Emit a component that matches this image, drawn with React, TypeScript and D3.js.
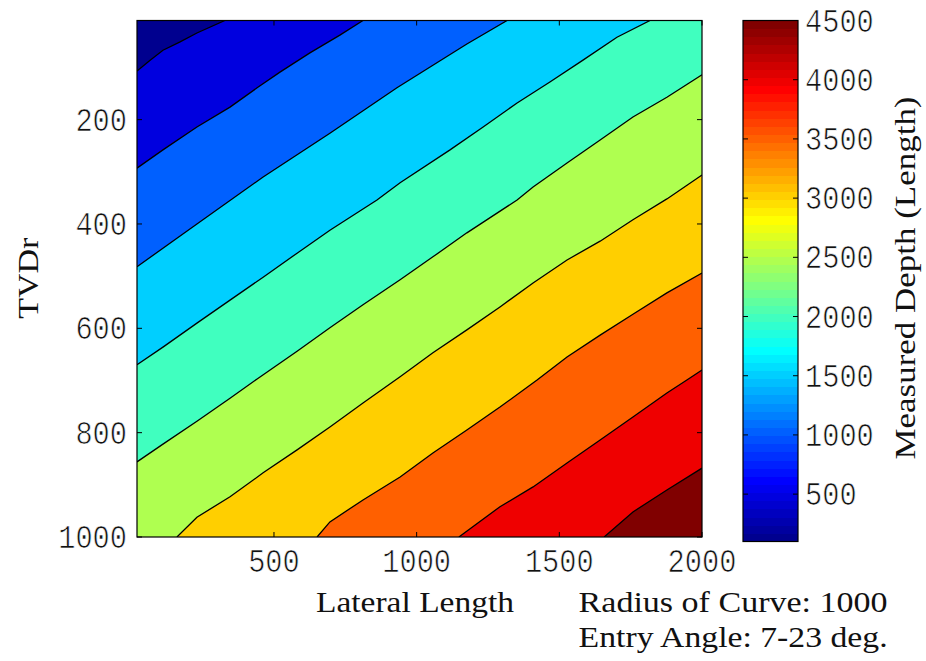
import React from "react";
import * as d3 from "d3";

// Axis tick values
const xTicks = [500, 1000, 1500, 2000];
const yTicks = [200, 400, 600, 800, 1000];
const mdTicks = [500, 1000, 1500, 2000, 2500, 3000, 3500, 4000, 4500];

// Contour levels of measured depth and the colour-axis limits
const levels = [500, 1000, 1500, 2000, 2500, 3000, 3500, 4000, 4500];
const mdMin = 100;
const mdMax = 4500;

// Contour lines as [lateral length, TVDr] pairs, each running from the
// top/right edge of the domain to the left/bottom edge.
const contour500: [number, number][] = [
  [328, 10], [230, 34], [171, 51], [111, 67], [66, 86], [20, 107],
];
const contour1000: [number, number][] = [
  [812, 10], [731, 38], [626, 72], [521, 109], [441, 139], [346, 176],
  [230, 214], [111, 258], [20, 293],
];
const contour1500: [number, number][] = [
  [1317, 10], [1176, 55], [931, 139], [696, 226], [462, 310], [230, 400],
  [20, 482],
];
const contour2000: [number, number][] = [
  [1818, 10], [1702, 42], [1583, 86], [1467, 128], [1352, 168], [1233, 214],
  [1117, 258], [942, 321], [861, 354], [696, 412], [581, 456], [462, 502],
  [346, 546], [230, 590], [111, 636], [20, 670],
];
const contour2500: [number, number][] = [
  [2000, 114], [1877, 157], [1758, 195], [1643, 239], [1527, 283],
  [1408, 329], [1352, 354], [1176, 417], [1057, 463], [942, 507],
  [812, 555], [696, 599], [581, 644], [441, 697], [346, 734], [230, 778],
  [111, 822], [20, 856],
];
const contour3000: [number, number][] = [
  [2000, 306], [1877, 352], [1758, 392], [1643, 433], [1527, 469],
  [1408, 513], [1292, 559], [1176, 603], [1057, 647], [942, 693],
  [812, 743], [696, 789], [581, 833], [462, 877], [346, 923], [230, 962],
  [160, 1000],
];
const contour3500: [number, number][] = [
  [2000, 494], [1877, 532], [1758, 573], [1643, 613], [1527, 655],
  [1422, 699], [1292, 751], [1176, 795], [1057, 839], [942, 885],
  [812, 929], [696, 971], [651, 1000],
];
const contour4000: [number, number][] = [
  [2000, 680], [1947, 699], [1877, 724], [1758, 770], [1643, 814],
  [1527, 858], [1408, 904], [1292, 942], [1148, 1000],
];
const contour4500: [number, number][] = [
  [2000, 868], [1877, 910], [1758, 952], [1657, 1000],
];

const contourLines = [
  contour500, contour1000, contour1500, contour2000, contour2500,
  contour3000, contour3500, contour4000, contour4500,
];

const xDomain: [number, number] = [20, 2000];
const yDomain: [number, number] = [10, 1000];

// MATLAB-style jet colormap with m entries
function jet(m: number): string[] {
  const n = Math.ceil(m / 4);
  const u: number[] = [];
  for (let i = 1; i <= n; i++) u.push(i / n);
  for (let i = 1; i < n; i++) u.push(1);
  for (let i = n; i >= 1; i--) u.push(i / n);
  const offset = Math.ceil(n / 2) - (m % 4 === 1 ? 1 : 0);
  const r = new Array(m).fill(0);
  const g = new Array(m).fill(0);
  const b = new Array(m).fill(0);
  u.forEach((v, k) => {
    const gi = offset + k + 1; // 1-based
    const ri = gi + n;
    const bi = gi - n;
    if (gi >= 1 && gi <= m) g[gi - 1] = v;
    if (ri >= 1 && ri <= m) r[ri - 1] = v;
    if (bi >= 1 && bi <= m) b[bi - 1] = v;
  });
  return r.map((_, i) =>
    d3.rgb(Math.round(r[i] * 255), Math.round(g[i] * 255), Math.round(b[i] * 255)).formatHex()
  );
}

const cmap = jet(64);
const colorFor = (v: number) => {
  const idx = Math.floor(((v - mdMin) / (mdMax - mdMin)) * cmap.length);
  return cmap[Math.max(0, Math.min(cmap.length - 1, idx))];
};

const W = 926;
const H = 661;
const plot = { left: 137, right: 702, top: 20.5, bottom: 537 };
const bar = { left: 743, right: 798, top: 20.5, bottom: 541.5 };

const tickFont = "'Liberation Mono', 'Courier New', monospace";
const labelFont = "'Liberation Serif', 'Times New Roman', serif";
const ink = "#111";

// Tick numerals: slightly thinned strokes via a white outline painted on top
const tickTextStyle: React.CSSProperties = { paintOrder: "normal" };

export default function App() {
  const xs = d3.scaleLinear().domain(xDomain).range([plot.left, plot.right]);
  const ys = d3.scaleLinear().domain(yDomain).range([plot.top, plot.bottom]);
  const cs = d3.scaleLinear().domain([mdMin, mdMax]).range([bar.bottom, bar.top]);
  const lineGen = d3.line<[number, number]>().x((d) => xs(d[0])).y((d) => ys(d[1]));
  const lineRaw = d3.line<[number, number]>();

  // Region on the deeper side of a contour, closed along the frame
  const regionPath = (pts: [number, number][]) => {
    const start = pts[0];
    const end = pts[pts.length - 1];
    const px: [number, number][] = pts.map((d) => [xs(d[0]), ys(d[1])]);
    if (end[0] <= xDomain[0]) px.push([xs(xDomain[0]), ys(yDomain[1])]);
    px.push([xs(xDomain[1]), ys(yDomain[1])]);
    if (start[1] <= yDomain[0]) px.push([xs(xDomain[1]), ys(yDomain[0])]);
    return lineRaw(px) + "Z";
  };

  const digitW = 17.2;
  const bandH = (mdMax - mdMin) / cmap.length;

  const TickText = (props: { x: number; y: number; value: number }) => (
    <text
      x={props.x}
      y={props.y}
      fontFamily={tickFont}
      fontSize={33}
      fill={ink}
      stroke="#fff"
      strokeWidth={0.7}
      style={tickTextStyle}
      textLength={String(props.value).length * digitW}
      lengthAdjust="spacingAndGlyphs"
    >
      {props.value}
    </text>
  );

  return (
    <svg
      width={W}
      height={H}
      viewBox={`0 0 ${W} ${H}`}
      style={{ position: "absolute", left: 0, top: 0, background: "#fff" }}
    >
      <defs>
        <clipPath id="plotClip">
          <rect
            x={plot.left}
            y={plot.top}
            width={plot.right - plot.left}
            height={plot.bottom - plot.top}
          />
        </clipPath>
      </defs>

      {/* filled contour bands */}
      <g clipPath="url(#plotClip)">
        <rect
          x={plot.left}
          y={plot.top}
          width={plot.right - plot.left}
          height={plot.bottom - plot.top}
          fill={colorFor(mdMin)}
        />
        {contourLines.map((pts, i) => (
          <path key={`f${i}`} d={regionPath(pts)} fill={colorFor(levels[i])} stroke="none" />
        ))}
        {contourLines.map((pts, i) => (
          <path key={`l${i}`} d={lineGen(pts) || ""} fill="none" stroke="#000" strokeWidth={1.3} />
        ))}
      </g>

      {/* axes frame and ticks */}
      <rect
        x={plot.left}
        y={plot.top}
        width={plot.right - plot.left}
        height={plot.bottom - plot.top}
        fill="none"
        stroke="#000"
        strokeWidth={1.2}
      />
      {xTicks.map((t) => (
        <g key={`xt${t}`}>
          <line x1={xs(t)} x2={xs(t)} y1={plot.bottom} y2={plot.bottom - 5} stroke="#000" />
          <line x1={xs(t)} x2={xs(t)} y1={plot.top} y2={plot.top + 5} stroke="#000" />
          <TickText x={xs(t) - (String(t).length * digitW) / 2} y={572} value={t} />
        </g>
      ))}
      {yTicks.map((t) => (
        <g key={`yt${t}`}>
          <line x1={plot.left} x2={plot.left + 5} y1={ys(t)} y2={ys(t)} stroke="#000" />
          <line x1={plot.right} x2={plot.right - 5} y1={ys(t)} y2={ys(t)} stroke="#000" />
          <TickText x={127 - String(t).length * digitW} y={ys(t) + 11} value={t} />
        </g>
      ))}

      {/* axis titles */}
      <text
        x={316}
        y={611.5}
        fontFamily={labelFont}
        fontSize={30}
        fill={ink}
        textLength={198}
        lengthAdjust="spacingAndGlyphs"
      >
        Lateral Length
      </text>
      <text
        transform={`translate(38, ${plot.top + (plot.bottom - plot.top) / 2 + 40}) rotate(-90)`}
        x={0}
        y={0}
        fontFamily={labelFont}
        fontSize={30}
        fill={ink}
        textLength={81}
        lengthAdjust="spacingAndGlyphs"
      >
        TVDr
      </text>

      {/* annotation */}
      <text
        x={578.6}
        y={611.5}
        fontFamily={labelFont}
        fontSize={30}
        fill={ink}
        textLength={309}
        lengthAdjust="spacingAndGlyphs"
      >
        Radius of Curve: 1000
      </text>
      <text
        x={578.6}
        y={647}
        fontFamily={labelFont}
        fontSize={30}
        fill={ink}
        textLength={309}
        lengthAdjust="spacingAndGlyphs"
      >
        Entry Angle: 7-23 deg.
      </text>

      {/* colorbar */}
      <g shapeRendering="crispEdges">
        {cmap.map((c, i) => {
          const v0 = mdMin + i * bandH;
          const v1 = v0 + bandH;
          return (
            <rect
              key={`cb${i}`}
              x={bar.left}
              y={cs(v1)}
              width={bar.right - bar.left}
              height={cs(v0) - cs(v1) + 0.5}
              fill={c}
            />
          );
        })}
      </g>
      <rect
        x={bar.left}
        y={bar.top}
        width={bar.right - bar.left}
        height={bar.bottom - bar.top}
        fill="none"
        stroke="#000"
        strokeWidth={1.2}
      />
      {mdTicks.map((t) => (
        <g key={`ct${t}`}>
          <line x1={bar.left} x2={bar.left + 5} y1={cs(t)} y2={cs(t)} stroke="#000" />
          <line x1={bar.right} x2={bar.right - 5} y1={cs(t)} y2={cs(t)} stroke="#000" />
          <TickText x={805} y={cs(t) + 11} value={t} />
        </g>
      ))}
      <text
        transform={`translate(915, ${bar.top + (bar.bottom - bar.top) / 2 - 3}) rotate(-90)`}
        x={-181.5}
        y={0}
        fontFamily={labelFont}
        fontSize={30}
        fill={ink}
        textLength={363}
        lengthAdjust="spacingAndGlyphs"
      >
        Measured Depth (Length)
      </text>
    </svg>
  );
}
